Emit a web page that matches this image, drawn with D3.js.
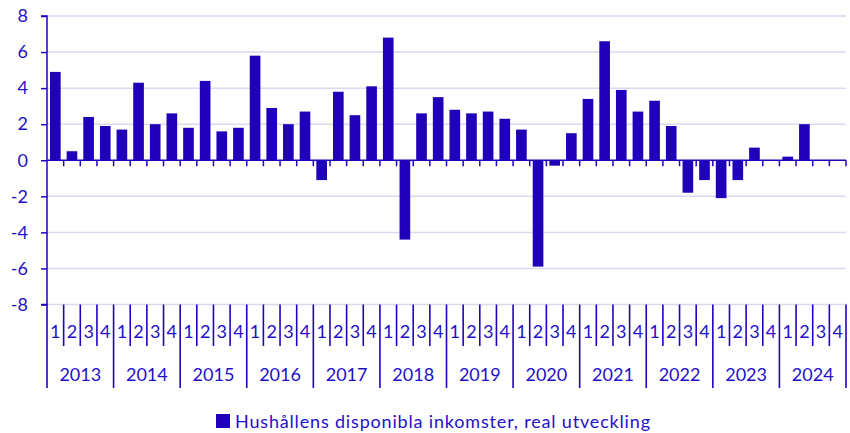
<!DOCTYPE html>
<html>
<head>
<meta charset="utf-8">
<script src="https://d3js.org/d3.v7.min.js"></script>
<style>
  html, body { margin: 0; padding: 0; background: #ffffff; }
  svg { display: block; }
  text { font-family: Lato, "Open Sans", sans-serif; fill: #2410c8; }
</style>
</head>
<body>
<svg id="chart" width="850" height="433"></svg>
<script>
const years = ["2013","2014","2015","2016","2017","2018","2019","2020","2021","2022","2023","2024"];
const quarters = ["1","2","3","4"];
const values = [
  4.9, 0.5, 2.4, 1.9,
  1.7, 4.3, 2.0, 2.6,
  1.8, 4.4, 1.6, 1.8,
  5.8, 2.9, 2.0, 2.7,
  -1.1, 3.8, 2.5, 4.1,
  6.8, -4.4, 2.6, 3.5,
  2.8, 2.6, 2.7, 2.3,
  1.7, -5.9, -0.3, 1.5,
  3.4, 6.6, 3.9, 2.7,
  3.3, 1.9, -1.8, -1.1,
  -2.1, -1.1, 0.7, 0.0,
  0.2, 2.0, null, null
];
const yTicks = [-8, -6, -4, -2, 0, 2, 4, 6, 8];
const seriesName = "Hushållens disponibla inkomster, real utveckling";

const barColor = "#2000b8";
const axisColor = "#2200c0";
const gridColor = "#d9d9f2";

const svg = d3.select("#chart");
const mLeft = 47, mRight = 846, mTop = 16, mBottom = 304.5;

const cats = [];
years.forEach(yr => quarters.forEach(q => cats.push(yr + "-" + q)));
const data = cats.map((c, i) => ({ key: c, year: c.split("-")[0], q: c.split("-")[1], v: values[i] }));

const xCell = d3.scaleBand().domain(cats).range([mLeft, mRight]).padding(0);
const xBar = d3.scaleBand().domain(cats).range([mLeft, mRight]).paddingInner(0.36).paddingOuter(0.18);
const y = d3.scaleLinear().domain([-8, 8]).range([mBottom, mTop]);
const step = xCell.step();

// grid lines
svg.append("g").selectAll("line").data(yTicks.filter(d => d !== 0)).join("line")
  .attr("x1", mLeft).attr("x2", mRight)
  .attr("y1", d => y(d)).attr("y2", d => y(d))
  .attr("stroke", gridColor).attr("stroke-width", 1.5);

// bars
svg.append("g").selectAll("rect").data(data.filter(d => d.v !== null)).join("rect")
  .attr("x", d => xBar(d.key))
  .attr("width", xBar.bandwidth())
  .attr("y", d => Math.min(y(d.v), y(0)))
  .attr("height", d => Math.abs(y(d.v) - y(0)))
  .attr("fill", barColor);

// y axis
const yAxis = d3.axisLeft(y).tickValues(yTicks).tickSize(6).tickPadding(13).tickFormat(d => String(d));
const gy = svg.append("g").attr("transform", `translate(${mLeft},0)`).call(yAxis);
gy.select(".domain").attr("stroke", axisColor).attr("stroke-width", 1.5).attr("d", `M-6,${y(8)}H0V${y(-8)}H-6`);
gy.selectAll(".tick line").attr("stroke", axisColor).attr("stroke-width", 1.5);
gy.selectAll(".tick text").style("font-size", "18px").attr("fill", "#2410c8").style("font-family", "Lato, 'Open Sans', sans-serif");

// zero line with downward ticks at category boundaries
const boundaries = cats.map(c => xCell(c)).concat([mRight]);
svg.append("line").attr("x1", mLeft).attr("x2", mRight).attr("y1", y(0)).attr("y2", y(0))
  .attr("stroke", axisColor).attr("stroke-width", 1.5);
svg.append("g").selectAll("line").data(boundaries.slice(1)).join("line")
  .attr("x1", d => d).attr("x2", d => d)
  .attr("y1", y(0)).attr("y2", y(0) + 6)
  .attr("stroke", axisColor).attr("stroke-width", 1.5);

// bottom category axis: separators
svg.append("g").selectAll("line").data(boundaries).join("line")
  .attr("x1", d => d).attr("x2", d => d)
  .attr("y1", mBottom)
  .attr("y2", (d, i) => (i % 4 === 0) ? 388 : 346)
  .attr("stroke", axisColor).attr("stroke-width", 1.6);

// quarter labels
svg.append("g").selectAll("text").data(data).join("text")
  .attr("x", d => xCell(d.key) + step / 2)
  .attr("y", 338)
  .attr("text-anchor", "middle")
  .style("font-size", "18px")
  .text(d => d.q);

// year labels
svg.append("g").selectAll("text").data(years).join("text")
  .attr("x", d => xCell(d + "-1") + step * 2)
  .attr("y", 381)
  .attr("text-anchor", "middle")
  .style("font-size", "18px")
  .text(d => d);

// legend
const lg = svg.append("g");
lg.append("rect").attr("x", 216).attr("y", 414).attr("width", 14).attr("height", 14).attr("fill", barColor);
lg.append("text").attr("x", 235).attr("y", 428).style("font-size", "18px")
  .attr("textLength", 415).attr("lengthAdjust", "spacing").text(seriesName);
</script>
</body>
</html>
